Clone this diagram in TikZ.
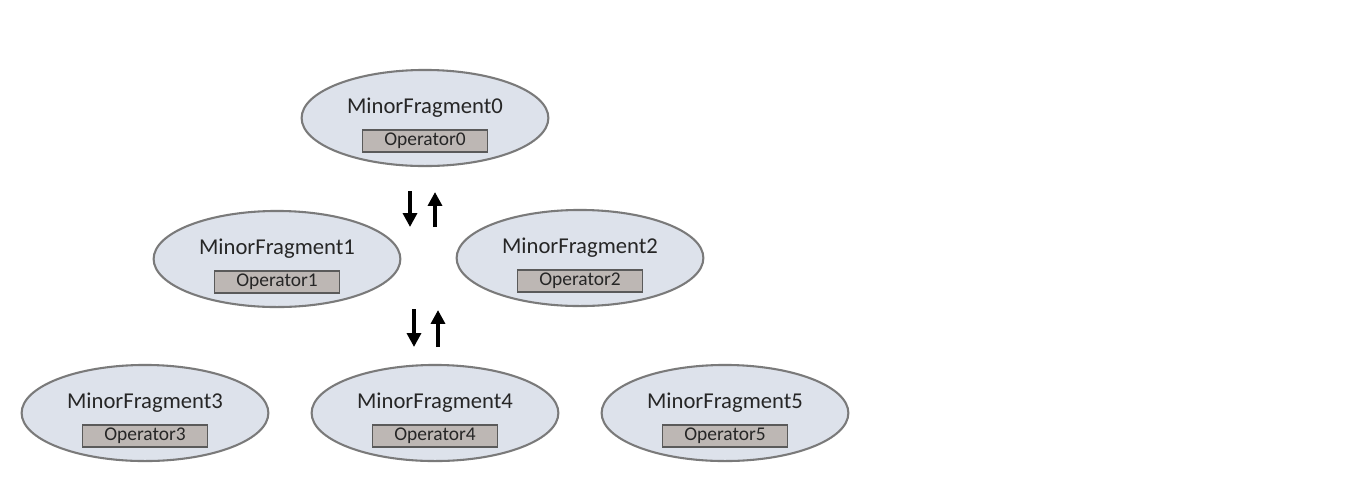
\documentclass[tikz,border=0pt]{standalone}
\usepackage{fontspec}
\setmainfont{Carlito}
\usetikzlibrary{positioning,shapes.geometric,arrows.meta}

\definecolor{fragfill}{HTML}{DDE2EB}
\definecolor{fragline}{HTML}{7A7A7A}
\definecolor{opfill}{HTML}{BDB7B4}
\definecolor{opline}{HTML}{5A5A5A}
\definecolor{txt}{HTML}{262626}

\tikzset{
  frag/.style={ellipse,draw=fragline,fill=fragfill,line width=0.9pt,
    minimum width=3.75cm,minimum height=1.46cm,inner sep=0pt},
  fragtitle/.style={text=txt,font=\fontsize{9.8}{12}\selectfont,inner sep=0pt},
  opbox/.style={draw=opline,fill=opfill,line width=0.8pt,text=txt,
    minimum width=1.9cm,minimum height=0.33cm,inner sep=0pt,
    font=\fontsize{8.4}{10}\selectfont},
  flow/.style={line width=1.8pt,-{Triangle[length=6pt,width=6pt]}}
}

\begin{document}
\begin{tikzpicture}[x=0.0152cm,y=-0.0152cm]
  \useasboundingbox (0,0) rectangle (1354,478);
  \foreach \i/\x/\y in {0/425/118, 1/277/259, 2/580/258,
                        3/145/413, 4/435/413, 5/725/413} {
    \node[frag] (mf\i) at (\x,\y) {};
    \node[fragtitle] (t\i) at (\x,\y-10) {MinorFragment\i};
    \node[opbox] (op\i) at (\x,\y+23) {Operator\i};
  }
  % exchange between levels
  \coordinate (a1) at (410,191);
  \coordinate (a2) at (410,227);
  \coordinate (b1) at (435,227);
  \coordinate (b2) at (435,192);
  \coordinate (c1) at (414,309);
  \coordinate (c2) at (414,347);
  \coordinate (d1) at (438,347);
  \coordinate (d2) at (438,310);
  \draw[flow] (a1) -- (a2);
  \draw[flow] (b1) -- (b2);
  \draw[flow] (c1) -- (c2);
  \draw[flow] (d1) -- (d2);
\end{tikzpicture}
\end{document}
